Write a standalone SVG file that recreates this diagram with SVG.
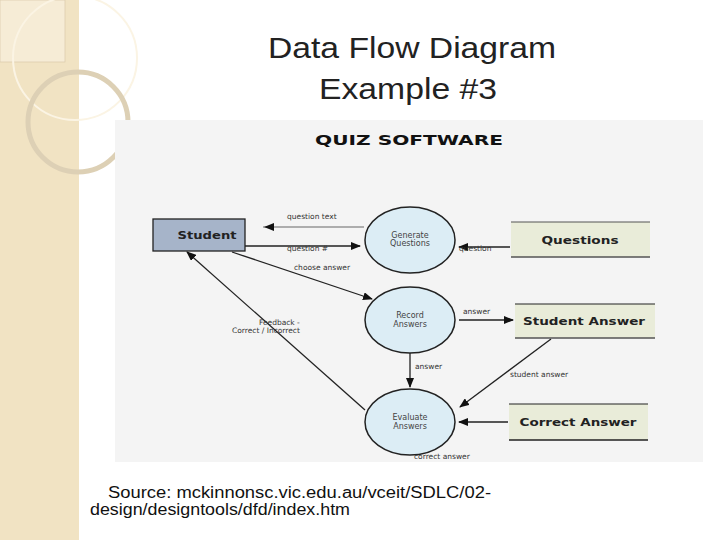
<svg xmlns="http://www.w3.org/2000/svg" width="720" height="540" viewBox="0 0 720 540">
<defs>
<marker id="ah" markerWidth="10" markerHeight="8" refX="9" refY="4" orient="auto" markerUnits="userSpaceOnUse"><path d="M0,0 L10,4 L0,8 z" fill="#111"/></marker>
<style>
.c{fill:#dcedf5;stroke:#222;stroke-width:1.5}
.ct{font-family:"DejaVu Sans",sans-serif;font-size:8px;fill:#444;text-anchor:middle}
.l{font-family:"DejaVu Sans",sans-serif;font-size:7.5px;fill:#333}
.st{font-family:"DejaVu Sans",sans-serif;font-size:11px;font-weight:bold;fill:#222;text-anchor:middle}
.e{stroke:#222;stroke-width:1.3;fill:none;marker-end:url(#ah)}
</style>
</defs>
<rect width="720" height="540" fill="#fff"/>
<rect x="0" y="0" width="79" height="540" fill="#f1e3c3"/>
<rect x="0" y="0" width="65" height="62" fill="#f6ecd6" stroke="#d9c9a8" stroke-width="0.7"/>
<circle cx="75" cy="58" r="62" fill="none" stroke="#fbf4e4" stroke-width="2"/>
<circle cx="78" cy="122" r="50" fill="none" stroke="#ddd0b5" stroke-width="5"/>
<text x="268" y="58" font-family="Liberation Sans,Arial,sans-serif" font-size="30" textLength="288" lengthAdjust="spacingAndGlyphs" fill="#222">Data Flow Diagram</text>
<text x="319" y="99" font-family="Liberation Sans,Arial,sans-serif" font-size="30" textLength="178" lengthAdjust="spacingAndGlyphs" fill="#222">Example #3</text>
<rect x="115" y="120" width="588" height="342" fill="#f4f4f4"/>
<text x="315" y="145" font-family="DejaVu Sans,sans-serif" font-size="14" font-weight="bold" textLength="188" lengthAdjust="spacingAndGlyphs" fill="#111">QUIZ SOFTWARE</text>
<g id="connectors">
<line x1="364" y1="227" x2="263" y2="227" stroke="#666" stroke-width="1"/>
<path d="M264,227 l10,-4 l0,8 z" fill="#111"/>
<line class="e" x1="245" y1="246" x2="360" y2="246"/>
<line class="e" x1="510" y1="247" x2="459" y2="247"/>
<line class="e" x1="232" y1="252" x2="372" y2="299"/>
<line class="e" x1="459" y1="320" x2="513" y2="320"/>
<line class="e" x1="410" y1="353" x2="410" y2="387"/>
<line class="e" x1="551" y1="339" x2="460" y2="407"/>
<line class="e" x1="508" y1="422" x2="459" y2="422"/>
<line class="e" x1="365" y1="410" x2="187" y2="252"/>
<text class="l" x="287" y="219">question text</text>
<text class="l" x="287" y="251">question #</text>
<text class="l" x="294" y="270">choose answer</text>
<text class="l" x="459" y="251">question</text>
<text class="l" x="463" y="314">answer</text>
<text class="l" x="415" y="369">answer</text>
<text class="l" x="510" y="377">student answer</text>
<text class="l" x="414" y="459">correct answer</text>
<text class="l" x="259" y="325">Feedback -</text>
<text class="l" x="232" y="333">Correct / Incorrect</text>
</g>
<g id="student"><rect x="153" y="219" width="92" height="32" fill="#a6b4c9" stroke="#222" stroke-width="1.3"/><text class="st" x="207" y="239" textLength="59" lengthAdjust="spacingAndGlyphs">Student</text></g>
<g id="gen"><ellipse class="c" cx="410" cy="240" rx="45" ry="33"/><text class="ct" x="410" y="238">Generate</text><text class="ct" x="410" y="246">Questions</text></g>
<g id="rec"><ellipse class="c" cx="410" cy="320" rx="45" ry="33"/><text class="ct" x="410" y="318">Record</text><text class="ct" x="410" y="327">Answers</text></g>
<g id="eval"><ellipse class="c" cx="410" cy="422" rx="45" ry="33"/><text class="ct" x="410" y="420">Evaluate</text><text class="ct" x="410" y="429">Answers</text></g>
<g id="questions"><rect x="511" y="222" width="139" height="35" fill="#e9ecd9"/><line x1="511" y1="222" x2="650" y2="222" stroke="#555"/><line x1="511" y1="257" x2="650" y2="257" stroke="#555" stroke-width="1.5"/><text class="st" x="580" y="244" textLength="77" lengthAdjust="spacingAndGlyphs">Questions</text></g>
<g id="sa"><rect x="515" y="304" width="140" height="34" fill="#e9ecd9"/><line x1="515" y1="304" x2="655" y2="304" stroke="#222"/><line x1="515" y1="338" x2="655" y2="338" stroke="#555" stroke-width="1.5"/><text class="st" x="584" y="325" textLength="122" lengthAdjust="spacingAndGlyphs">Student Answer</text></g>
<g id="ca"><rect x="509" y="404" width="139" height="36" fill="#e9ecd9"/><line x1="509" y1="404" x2="648" y2="404" stroke="#222"/><line x1="509" y1="440" x2="648" y2="440" stroke="#222" stroke-width="1.5"/><text class="st" x="578" y="426" textLength="117" lengthAdjust="spacingAndGlyphs">Correct Answer</text></g>
<text x="108" y="498" font-family="Liberation Sans,Arial,sans-serif" font-size="16" textLength="383" lengthAdjust="spacingAndGlyphs" fill="#111">Source: mckinnonsc.vic.edu.au/vceit/SDLC/02-</text>
<text x="90" y="515" font-family="Liberation Sans,Arial,sans-serif" font-size="16" textLength="260" lengthAdjust="spacingAndGlyphs" fill="#111">design/designtools/dfd/index.htm</text>
</svg>
